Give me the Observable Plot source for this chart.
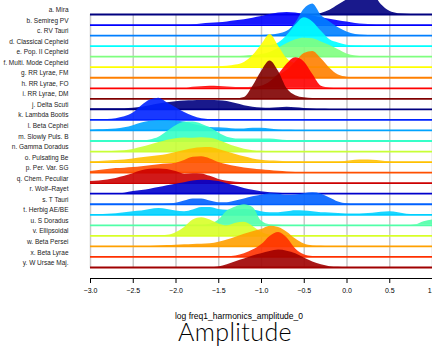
<!DOCTYPE html>
<html><head><meta charset="utf-8">
<script src="https://cdn.jsdelivr.net/npm/d3@7"></script>
<script src="https://cdn.jsdelivr.net/npm/@observablehq/plot@0.6"></script>
<style>
body{margin:0;background:#fff;}
#wrap{position:relative;width:432px;height:348px;overflow:hidden;font-family:"Liberation Sans",Arial,sans-serif;}
#xlabel{position:absolute;left:139px;width:200px;top:310.5px;text-align:center;font-size:8.5px;line-height:10px;color:#000;white-space:nowrap;}
#title{position:absolute;left:85px;width:300px;top:316px;text-align:center;font-family:"Lato","Open Sans",sans-serif;font-weight:300;font-size:25px;line-height:30px;color:#000;letter-spacing:0.4px;}
</style></head>
<body><div id="wrap"><div id="chart"></div><div id="xlabel">log freq1_harmonics_amplitude_0</div><div id="title">Amplitude</div></div>
<script>
const classes = ["a. Mira","b. Semireg PV","c. RV Tauri","d. Classical Cepheid","e. Pop. II Cepheid","f. Multi. Mode Cepheid","g. RR Lyrae, FM","h. RR Lyrae, FO","i. RR Lyrae, DM","j. Delta Scuti","k. Lambda Bootis","l. Beta Cephei","m. Slowly Puls. B","n. Gamma Doradus","o. Pulsating Be","p. Per. Var. SG","q. Chem. Peculiar","r. Wolf\u2013Rayet","s. T Tauri","t. Herbig AE/BE","u. S Doradus","v. Ellipsoidal","w. Beta Persei","x. Beta Lyrae","y. W Ursae Maj."];
const colors = ["#00007F","#0000FF","#007FFF","#00FFFF","#7FFF7F","#FFFF00","#FF7F00","#FF0000","#7F0000",
                "#00007F","#0024FF","#00A4FF","#36FFC8","#C8FF36","#FFC000","#FF5000","#CC0000",
                "#0000CC","#0060FF","#00D0FF","#50FFA8","#D8FF28","#FFA000","#FF3000","#A00000"];
const xTicks = [-3,-2.5,-2,-1.5,-1,-0.5,0,0.5,1];
// x positions (log amplitude) at which ridge heights were read
const grid = [-3,-2.9,-2.8,-2.7,-2.6,-2.5,-2.4,-2.3,-2.2,-2.1,
              -2,-1.9,-1.8,-1.7,-1.6,-1.5,-1.4,-1.3,-1.2,-1.1,
              -1,-0.9,-0.8,-0.7,-0.6,-0.5,-0.4,-0.3,-0.2,-0.1,
              0,0.1,0.2,0.3,0.4,0.5,0.6,0.7,0.8,0.9,1];
// ridge heights (in row units) at each grid point
const hA = [0,0,0,0,0,0,0,0,0,0, 0,0,0,0,0,0,0,0,0,0, 0,0,0,0,0,0,0,0.1,0.4,0.9, 1.4,2.0,2.2,2.0,0.95,0.3,0.08,0.03,0.01,0, 0];
const hB = [0,0,0,0,0,0,0,0,0,0, 0,0,0.03,0.1,0.16,0.22,0.3,0.4,0.5,0.65, 0.8,1.0,1.15,1.2,1.15,1.0,0.85,0.72,0.55,0.4, 0.28,0.15,0.07,0.02,0,0,0,0,0,0, 0];
const hC = [0,0,0,0,0,0,0,0,0,0, 0,0,0,0,0,0,0,0,0,0, 0,0.05,0.15,0.4,1.2,2.5,3.0,1.9,1.3,0.75, 0.35,0.1,0.02,0,0,0,0,0,0,0, 0];
const hD = [0,0,0,0,0,0,0,0,0,0, 0,0,0,0,0,0,0,0,0,0, 0,0.05,0.3,1.0,2.0,2.7,2.3,1.4,0.6,0.3, 0.08,0.01,0,0,0,0,0,0,0,0, 0];
const hE = [0,0,0,0,0,0,0,0,0,0, 0,0,0,0,0,0,0,0,0.05,0.1, 0.2,0.4,0.8,1.25,1.6,1.75,1.7,1.4,1.05,0.65, 0.25,0.07,0,0,0,0,0,0,0,0, 0];
const hF = [0,0,0,0,0,0,0,0,0,0, 0,0,0,0,0,0.05,0.1,0.2,0.45,1.1, 2.1,3.1,2.0,0.8,0.3,0.1,0.03,0,0,0, 0,0,0,0,0,0,0,0,0,0, 0];
const hG = [0,0,0,0,0,0,0,0,0,0, 0,0,0,0,0,0,0,0,0,0, 0,0,0.2,0.7,1.5,2.3,2.5,1.8,0.9,0.25, 0.05,0,0,0,0,0,0,0,0,0, 0];
const hH = [0,0,0,0,0,0,0,0,0,0, 0,0,0.1,0.15,0.2,0.18,0.12,0.08,0.08,0.1, 0.2,0.6,1.3,2.3,2.9,2.5,1.3,0.2,0.03,0, 0,0,0,0,0,0,0,0,0,0, 0];
const hI = [0,0,0,0,0,0,0,0,0,0, 0,0,0,0,0,0,0,0,0.12,1.2, 2.6,3.6,2.6,0.95,0.3,0.1,0.04,0,0,0, 0,0,0,0,0,0,0,0,0,0, 0];
const hJ = [0.05,0.05,0.05,0.05,0.06,0.1,0.2,0.35,0.5,0.62, 0.72,0.8,0.83,0.85,0.85,0.83,0.75,0.55,0.35,0.2, 0.12,0.1,0.15,0.2,0.15,0.08,0.03,0.01,0,0, 0,0,0,0,0,0,0,0,0,0, 0];
const hK = [0,0,0.03,0.12,0.3,0.65,1.35,1.9,2.05,1.6, 1.15,0.7,0.35,0.1,0.02,0,0,0,0,0, 0,0,0,0,0,0,0,0,0,0, 0,0,0,0,0,0,0,0,0,0, 0];
const hL = [0.03,0.06,0.1,0.15,0.25,0.45,0.7,0.88,0.95,0.95, 0.9,0.8,0.6,0.4,0.28,0.25,0.22,0.15,0.15,0.2, 0.22,0.15,0.05,0.01,0,0,0,0,0,0, 0,0,0,0,0,0,0,0,0,0, 0];
const hM = [0,0,0,0,0,0,0,0.1,0.35,0.9, 1.45,1.78,1.8,1.6,1.25,0.75,0.35,0.2,0.18,0.18, 0.2,0.2,0.12,0.04,0,0,0,0,0,0, 0,0,0,0,0,0,0,0,0,0, 0];
const hN = [0,0,0,0.02,0.07,0.2,0.4,0.62,0.85,1.08, 1.22,1.28,1.25,1.3,1.25,1.05,0.75,0.45,0.22,0.08, 0.02,0,0,0,0,0,0,0,0,0, 0,0,0,0,0,0,0,0,0,0, 0];
const hO = [0.03,0.06,0.1,0.15,0.2,0.3,0.4,0.5,0.6,0.72, 0.9,1.1,1.27,1.37,1.38,1.2,0.95,0.72,0.5,0.3, 0.17,0.1,0.08,0.04,0.02,0.01,0,0,0,0, 0.08,0.18,0.2,0.18,0.1,0.02,0,0,0,0, 0];
const hP = [0.1,0.2,0.3,0.38,0.42,0.48,0.55,0.65,0.75,0.82, 0.9,1.15,1.45,1.5,1.3,0.95,0.75,0.58,0.45,0.35, 0.28,0.2,0.12,0.06,0.02,0,0,0,0,0, 0,0,0,0,0,0,0,0,0,0, 0];
const hQ = [0.15,0.2,0.3,0.45,0.65,0.9,1.17,1.33,1.35,1.3, 1.1,0.85,0.9,0.88,0.65,0.35,0.18,0.08,0.04,0.02, 0,0,0,0,0,0,0,0,0,0, 0,0,0,0,0,0,0,0,0,0, 0];
const hR = [0,0,0,0,0.05,0.2,0.3,0.42,0.58,0.75, 0.9,1.05,1.2,1.28,1.25,1.15,0.95,0.72,0.5,0.32, 0.18,0.1,0.05,0.02,0,0,0,0,0,0, 0,0,0,0,0,0,0,0,0,0, 0];
const hS = [0,0,0,0,0,0,0,0,0,0.03, 0.1,0.3,0.5,0.5,0.3,0.15,0.15,0.3,0.5,0.7, 0.85,1.0,0.95,0.85,0.88,1.0,1.08,0.95,0.6,0.22, 0.05,0,0,0,0,0,0,0,0,0, 0];
const hT = [0.02,0.03,0.05,0.1,0.2,0.3,0.35,0.5,0.6,0.5, 0.35,0.28,0.45,0.68,0.7,0.5,0.42,0.45,0.5,0.45, 0.3,0.2,0.2,0.28,0.38,0.35,0.28,0.2,0.18,0.12, 0.08,0.08,0.1,0.15,0.25,0.3,0.2,0.06,0.02,0, 0];
const hU = [0,0,0,0,0,0,0,0,0,0, 0,0,0,0,0.1,0.5,1.35,1.75,1.95,1.7, 0.4,0.05,0.02,0,0,0,0,0,0,0, 0,0,0,0,0,0,0,0,0.05,0.35, 0.5];
const hV = [0,0,0,0,0,0,0,0,0,0.05, 0.3,0.8,1.5,1.72,1.5,1.12,0.95,1.2,1.3,0.9, 0.35,0.08,0,0,0,0,0,0,0,0, 0,0,0,0,0,0,0,0,0,0, 0];
const hW = [0,0,0,0,0,0,0,0,0.03,0.08, 0.12,0.15,0.18,0.2,0.25,0.4,0.62,0.88,1.15,1.4, 1.6,1.92,1.8,1.35,0.7,0.22,0.05,0.02,0,0, 0,0,0,0,0,0,0,0,0,0, 0];
const hX = [0,0,0,0,0,0,0,0,0,0, 0,0,0,0,0,0,0,0.08,0.3,0.65, 1.15,1.95,2.33,1.8,0.75,0.2,0.04,0,0,0, 0,0,0,0,0,0,0,0,0,0, 0];
const hY = [0,0,0,0,0,0,0,0,0,0, 0,0,0,0,0,0.05,0.25,0.55,0.8,1.08, 1.3,1.52,1.65,1.55,1.3,0.9,0.52,0.25,0.08,0.02, 0,0,0,0,0,0,0,0,0,0, 0];
const heights = [hA,hB,hC,hD,hE,hF,hG,hH,hI,hJ,hK,hL,hM,hN,hO,hP,hQ,hR,hS,hT,hU,hV,hW,hX,hY];

const n = classes.length;
const marks = [];
marks.push(Plot.ruleX(xTicks, {y1: -0.1, y2: n - 1, stroke: "#c8c8c8", strokeWidth: 1.5}));
classes.forEach((name, i) => {
  const base = n - 1 - i;
  const rows = grid.map((x, k) => ({x, base, top: base + heights[i][k]}));
  marks.push(Plot.areaY(rows, {x: "x", y1: "base", y2: "top", fill: colors[i], fillOpacity: 0.9, curve: "monotone-x"}));
  marks.push(Plot.ruleY([base], {stroke: colors[i], strokeWidth: 1.8}));
});
marks.push(Plot.text(classes, {x: () => -3, y: (d, i) => n - 1 - i + 0.43, text: d => d, textAnchor: "end", dx: -22, fontSize: 6.5, fill: "#222"}));
marks.push(Plot.frame({anchor: "bottom", stroke: "#000"}));
marks.push(Plot.axisX({ticks: xTicks, tickSize: 5, tickPadding: 5, fontSize: 7, label: null}));

const chart = Plot.plot({
  width: 432, height: 300,
  marginLeft: 90, marginRight: 0, marginTop: 0, marginBottom: 22,
  style: {fontFamily: "Liberation Sans, Arial, sans-serif", background: "#fff", overflow: "visible"},
  x: {domain: [-3, 1]},
  y: {domain: [0, n - 1], range: [267, 14], axis: null},
  marks
});
document.getElementById("chart").appendChild(chart);
</script>
</body></html>
